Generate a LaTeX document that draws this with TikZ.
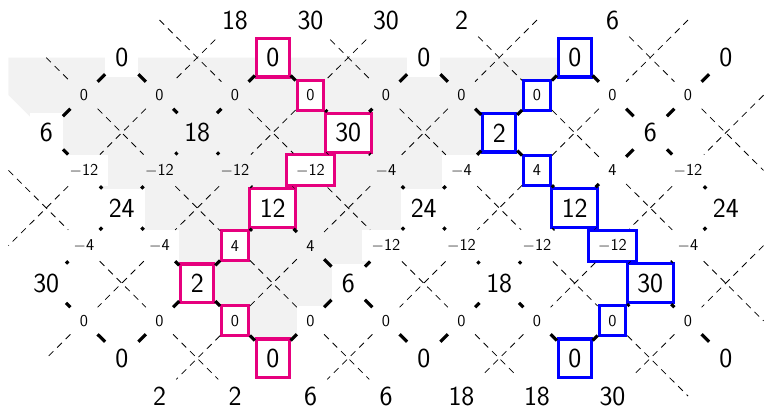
\documentclass[tikz,border=0pt]{standalone}
\usetikzlibrary{positioning}
\definecolor{pinkpath}{RGB}{230,0,126}

\begin{document}
\begin{tikzpicture}[
        x=1cm, y=-0.996cm,
        big/.style={inner sep=7.5pt, font=\huge\sffamily, fill=white},
        small/.style={inner sep=7pt, font=\fontsize{12.5}{15}\selectfont\sffamily, fill=white},
        inside/.style={fill=none},
        pink_box/.style={draw=pinkpath, line width=2.3pt},
        blue_box/.style={draw=blue, line width=2.3pt},
        link/.style={line width=2.4pt},
        diag/.style={dash pattern=on 5pt off 4pt, line width=0.6pt}
    ]
    \useasboundingbox (-0.225,-0.532) rectangle (20.04,10.37);

    % Shaded region
    \fill[gray!10] (0,1) -- (0,2) -- (1,3) -- (2,4) -- (3,5) -- (4,6) -- (5,7) -- (6,8) -- (7,9)
        -- (8,8) -- (9,7) -- (10,6) -- (11,5) -- (12,4) -- (13,3) -- (14,2) -- (15,1) -- cycle;

    % Baris 0
    \node[big, fill=none] (n0_6) at (6,0) {18};
    \node[big, fill=none] (n0_8) at (8,0) {30};
    \node[big, fill=none] (n0_10) at (10,0) {30};
    \node[big, fill=none] (n0_12) at (12,0) {2};
    \node[big, fill=none] (n0_16) at (16,0) {6};

    % Baris 1
    \node[big] (n1_3) at (3,1) {0};
    \node[big, pink_box] (n1_7) at (7,1) {0};
    \node[big] (n1_11) at (11,1) {0};
    \node[big, blue_box] (n1_15) at (15,1) {0};
    \node[big] (n1_19) at (19,1) {0};

    % Baris 2
    \node[small, inside] (n2_2) at (2,2) {0};
    \node[small, inside] (n2_4) at (4,2) {0};
    \node[small, inside] (n2_6) at (6,2) {0};
    \node[small, pink_box] (n2_8) at (8,2) {0};
    \node[small, inside] (n2_10) at (10,2) {0};
    \node[small, inside] (n2_12) at (12,2) {0};
    \node[small, blue_box] (n2_14) at (14,2) {0};
    \node[small] (n2_16) at (16,2) {0};
    \node[small] (n2_18) at (18,2) {0};

    % Baris 3
    \node[big] (n3_1) at (1,3) {6};
    \node[big, inside] (n3_5) at (5,3) {18};
    \node[big, pink_box] (n3_9) at (9,3) {30};
    \node[big, blue_box] (n3_13) at (13,3) {2};
    \node[big] (n3_17) at (17,3) {6};

    % Baris 4
    \node[small] (n4_2) at (2,4) {$-$12};
    \node[small, inside] (n4_4) at (4,4) {$-$12};
    \node[small, inside] (n4_6) at (6,4) {$-$12};
    \node[small, pink_box] (n4_8) at (8,4) {$-$12};
    \node[small, inside] (n4_10) at (10,4) {$-$4};
    \node[small] (n4_12) at (12,4) {$-$4};
    \node[small, blue_box] (n4_14) at (14,4) {4};
    \node[small] (n4_16) at (16,4) {4};
    \node[small] (n4_18) at (18,4) {$-$12};

    % Baris 5
    \node[big] (n5_3) at (3,5) {24};
    \node[big, pink_box] (n5_7) at (7,5) {12};
    \node[big] (n5_11) at (11,5) {24};
    \node[big, blue_box] (n5_15) at (15,5) {12};
    \node[big] (n5_19) at (19,5) {24};

    % Baris 6
    \node[small] (n6_2) at (2,6) {$-$4};
    \node[small] (n6_4) at (4,6) {$-$4};
    \node[small, pink_box] (n6_6) at (6,6) {4};
    \node[small, inside] (n6_8) at (8,6) {4};
    \node[small] (n6_10) at (10,6) {$-$12};
    \node[small] (n6_12) at (12,6) {$-$12};
    \node[small] (n6_14) at (14,6) {$-$12};
    \node[small, blue_box] (n6_16) at (16,6) {$-$12};
    \node[small] (n6_18) at (18,6) {$-$4};

    % Baris 7
    \node[big] (n7_1) at (1,7) {30};
    \node[big, pink_box] (n7_5) at (5,7) {2};
    \node[big] (n7_9) at (9,7) {6};
    \node[big] (n7_13) at (13,7) {18};
    \node[big, blue_box] (n7_17) at (17,7) {30};

    % Baris 8
    \node[small] (n8_2) at (2,8) {0};
    \node[small] (n8_4) at (4,8) {0};
    \node[small, pink_box] (n8_6) at (6,8) {0};
    \node[small] (n8_8) at (8,8) {0};
    \node[small] (n8_10) at (10,8) {0};
    \node[small] (n8_12) at (12,8) {0};
    \node[small] (n8_14) at (14,8) {0};
    \node[small, blue_box] (n8_16) at (16,8) {0};
    \node[small] (n8_18) at (18,8) {0};

    % Baris 9
    \node[big] (n9_3) at (3,9) {0};
    \node[big, pink_box] (n9_7) at (7,9) {0};
    \node[big] (n9_11) at (11,9) {0};
    \node[big, blue_box] (n9_15) at (15,9) {0};
    \node[big] (n9_19) at (19,9) {0};

    % Baris 10
    \node[big, fill=none] (n10_4) at (4,10) {2};
    \node[big, fill=none] (n10_6) at (6,10) {2};
    \node[big, fill=none] (n10_8) at (8,10) {6};
    \node[big, fill=none] (n10_10) at (10,10) {6};
    \node[big, fill=none] (n10_12) at (12,10) {18};
    \node[big, fill=none] (n10_14) at (14,10) {18};
    \node[big, fill=none] (n10_16) at (16,10) {30};

    % Titik silang
    \coordinate (x1_1) at (1,1);
    \coordinate (x1_5) at (5,1);
    \coordinate (x1_9) at (9,1);
    \coordinate (x1_13) at (13,1);
    \coordinate (x1_17) at (17,1);
    \coordinate (x3_3) at (3,3);
    \coordinate (x3_7) at (7,3);
    \coordinate (x3_11) at (11,3);
    \coordinate (x3_15) at (15,3);
    \coordinate (x3_19) at (19,3);
    \coordinate (x5_1) at (1,5);
    \coordinate (x5_5) at (5,5);
    \coordinate (x5_9) at (9,5);
    \coordinate (x5_13) at (13,5);
    \coordinate (x5_17) at (17,5);
    \coordinate (x7_3) at (3,7);
    \coordinate (x7_7) at (7,7);
    \coordinate (x7_11) at (11,7);
    \coordinate (x7_15) at (15,7);
    \coordinate (x7_19) at (19,7);
    \coordinate (x9_1) at (1,9);
    \coordinate (x9_5) at (5,9);
    \coordinate (x9_9) at (9,9);
    \coordinate (x9_13) at (13,9);
    \coordinate (x9_17) at (17,9);

    % Ujung garis
    \coordinate (e4_0) at (0,4);
    \coordinate (e6_0) at (0,6);
    \coordinate (e0_4) at (4,0);
    \coordinate (e0_14) at (14,0);
    \coordinate (e0_18) at (18,0);
    \coordinate (e10_18) at (18,10);
    \coordinate (e2_20) at (20,2);
    \coordinate (e4_20) at (20,4);
    \coordinate (e6_20) at (20,6);
    \coordinate (e8_20) at (20,8);

    % Garis putus-putus
    \draw[diag] (e4_0) -- (x5_1) -- (n6_2) -- (x7_3) -- (n8_4) -- (x9_5) -- (n10_6);
    \draw[diag] (x1_1) -- (n2_2) -- (x3_3) -- (n4_4) -- (x5_5) -- (n6_6) -- (x7_7) -- (n8_8) -- (x9_9) -- (n10_10);
    \draw[diag] (e0_4) -- (x1_5) -- (n2_6) -- (x3_7) -- (n4_8) -- (x5_9) -- (n6_10) -- (x7_11) -- (n8_12) -- (x9_13) -- (n10_14);
    \draw[diag] (n0_8) -- (x1_9) -- (n2_10) -- (x3_11) -- (n4_12) -- (x5_13) -- (n6_14) -- (x7_15) -- (n8_16) -- (x9_17) -- (e10_18);
    \draw[diag] (n0_12) -- (x1_13) -- (n2_14) -- (x3_15) -- (n4_16) -- (x5_17) -- (n6_18) -- (x7_19) -- (e8_20);
    \draw[diag] (n0_16) -- (x1_17) -- (n2_18) -- (x3_19) -- (e4_20);
    \draw[diag] (n0_6) -- (x1_5) -- (n2_4) -- (x3_3) -- (n4_2) -- (x5_1) -- (e6_0);
    \draw[diag] (n0_10) -- (x1_9) -- (n2_8) -- (x3_7) -- (n4_6) -- (x5_5) -- (n6_4) -- (x7_3) -- (n8_2) -- (x9_1);
    \draw[diag] (e0_14) -- (x1_13) -- (n2_12) -- (x3_11) -- (n4_10) -- (x5_9) -- (n6_8) -- (x7_7) -- (n8_6) -- (x9_5) -- (n10_4);
    \draw[diag] (e0_18) -- (x1_17) -- (n2_16) -- (x3_15) -- (n4_14) -- (x5_13) -- (n6_12) -- (x7_11) -- (n8_10) -- (x9_9) -- (n10_8);
    \draw[diag] (e2_20) -- (x3_19) -- (n4_18) -- (x5_17) -- (n6_16) -- (x7_15) -- (n8_14) -- (x9_13) -- (n10_12);
    \draw[diag] (e6_20) -- (x7_19) -- (n8_18) -- (x9_17) -- (n10_16);

    % Garis tebal
    \draw[link] (n7_1) -- (n8_2) -- (n9_3);
    \draw[link] (n3_1) -- (n4_2) -- (n5_3) -- (n6_4) -- (n7_5) -- (n8_6) -- (n9_7);
    \draw[link] (n1_3) -- (n2_4) -- (n3_5) -- (n4_6) -- (n5_7) -- (n6_8) -- (n7_9) -- (n8_10) -- (n9_11);
    \draw[link] (n1_7) -- (n2_8) -- (n3_9) -- (n4_10) -- (n5_11) -- (n6_12) -- (n7_13) -- (n8_14) -- (n9_15);
    \draw[link] (n1_11) -- (n2_12) -- (n3_13) -- (n4_14) -- (n5_15) -- (n6_16) -- (n7_17) -- (n8_18) -- (n9_19);
    \draw[link] (n1_15) -- (n2_16) -- (n3_17) -- (n4_18) -- (n5_19);
    \draw[link] (n1_3) -- (n2_2) -- (n3_1);
    \draw[link] (n1_7) -- (n2_6) -- (n3_5) -- (n4_4) -- (n5_3) -- (n6_2) -- (n7_1);
    \draw[link] (n1_11) -- (n2_10) -- (n3_9) -- (n4_8) -- (n5_7) -- (n6_6) -- (n7_5) -- (n8_4) -- (n9_3);
    \draw[link] (n1_15) -- (n2_14) -- (n3_13) -- (n4_12) -- (n5_11) -- (n6_10) -- (n7_9) -- (n8_8) -- (n9_7);
    \draw[link] (n1_19) -- (n2_18) -- (n3_17) -- (n4_16) -- (n5_15) -- (n6_14) -- (n7_13) -- (n8_12) -- (n9_11);
    \draw[link] (n5_19) -- (n6_18) -- (n7_17) -- (n8_16) -- (n9_15);

\end{tikzpicture}
\end{document}
